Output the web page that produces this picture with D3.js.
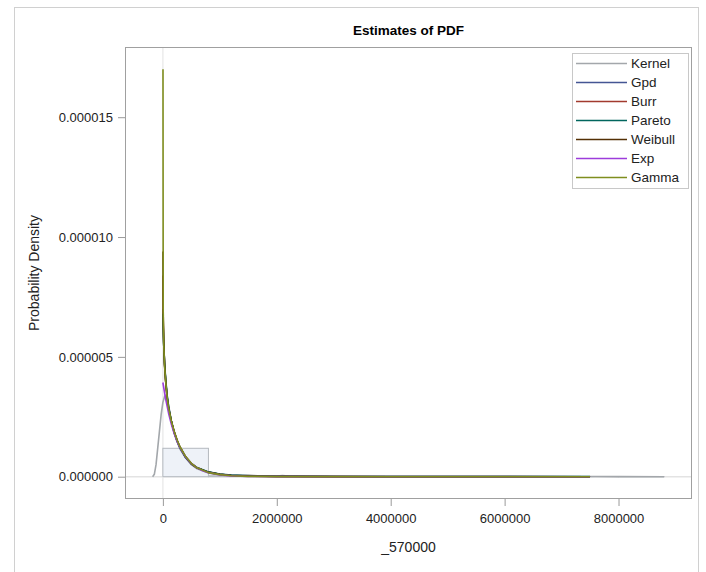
<!DOCTYPE html>
<html>
<head>
<meta charset="utf-8">
<script src="https://cdn.jsdelivr.net/npm/d3@7"></script>
<style>
  html, body { margin: 0; padding: 0; background: #fff; }
  svg text { font-family: "Liberation Sans", Arial, sans-serif; }
</style>
</head>
<body>
<svg id="chart" width="706" height="572"></svg>
<script>
// ---- data (densities in units of 1e-6) ----
const UNIT = 1e-6;
const seriesNames = ["Kernel", "Gpd", "Burr", "Pareto", "Weibull", "Exp", "Gamma"];
const seriesColors = ["#a3a7ab", "#445694", "#A23A2E", "#01665E", "#543005", "#9D3CDB", "#7F8E1F"];

// histogram bins (edges in dollars) and heights
const binEdges = [0, 800000, 1600000, 2400000, 3200000, 4000000, 4800000, 5600000, 6400000, 7200000, 8000000, 8800000];
const binHeights = [1.185, 0.04, 0.012, 0.004, 0.002, 0.001, 0.001, 0.001, 0.001, 0.0015, 0.001];

// kernel density
const kernelX = [-180000, -150000, -120000, -90000, -60000, -30000, 0, 30000, 50000, 70000, 100000, 150000, 200000, 300000, 400000, 500000, 600000, 800000, 1000000, 1200000, 1400000, 1500000, 1600000, 1800000, 2000000, 2100000, 2200000, 2500000, 3000000, 4000000, 5000000, 6000000, 7000000, 7600000, 8000000, 8800000];
const kernelY = [0.0, 0.1, 0.5, 1.2, 1.9, 2.6, 3.1, 3.35, 3.4, 3.3, 3.0, 2.3, 1.8, 1.15, 0.78, 0.5, 0.33, 0.15, 0.08, 0.05, 0.06, 0.07, 0.05, 0.02, 0.03, 0.05, 0.03, 0.01, 0.005, 0.003, 0.003, 0.003, 0.003, 0.006, 0.003, 0.0];

// parametric fits
const fitX = [2000, 6000, 15000, 30000, 50000, 75000, 100000, 150000, 200000, 250000, 300000, 400000, 500000, 600000, 800000, 1000000, 1200000, 1500000, 2000000, 3000000, 4000000, 5000000, 6000000, 7500000];
const gpdY     = [7.0, 6.3, 5.5, 4.7, 4.0, 3.35, 2.9, 2.3, 1.85, 1.5, 1.22, 0.8, 0.53, 0.36, 0.19, 0.105, 0.06, 0.032, 0.014, 0.005, 0.0025, 0.0014, 0.0009, 0.0005];
const burrY    = [8.4, 6.5, 5.6, 4.7, 3.95, 3.3, 2.85, 2.28, 1.85, 1.5, 1.23, 0.82, 0.54, 0.37, 0.19, 0.1, 0.057, 0.03, 0.013, 0.0045, 0.0022, 0.0012, 0.0008, 0.0004];
const paretoY  = [6.8, 6.2, 5.5, 4.75, 4.05, 3.4, 2.92, 2.3, 1.83, 1.47, 1.2, 0.8, 0.54, 0.38, 0.2, 0.11, 0.065, 0.035, 0.016, 0.006, 0.003, 0.0017, 0.0011, 0.0006];
const weibullY = [9.4, 6.7, 5.6, 4.65, 3.95, 3.3, 2.85, 2.3, 1.87, 1.52, 1.24, 0.83, 0.55, 0.37, 0.18, 0.095, 0.05, 0.022, 0.008, 0.0015, 0.0003, 0.0001, 0, 0];
const gammaY   = [17.0, 6.9, 5.5, 4.6, 3.95, 3.3, 2.87, 2.3, 1.88, 1.53, 1.25, 0.84, 0.56, 0.37, 0.17, 0.085, 0.04, 0.015, 0.003, 0.0002, 0, 0, 0, 0];

const expX = [0, 50000, 100000, 150000, 200000, 250000, 300000, 400000, 500000, 600000, 700000, 800000, 1000000, 1200000, 1500000, 2000000, 3000000, 5000000, 7500000];
const expY = [3.93, 3.23, 2.65, 2.18, 1.79, 1.47, 1.21, 0.816, 0.551, 0.372, 0.251, 0.169, 0.077, 0.035, 0.011, 0.0015, 0, 0, 0];

const xTicks = [0, 2000000, 4000000, 6000000, 8000000];
const yTicks = [0, 0.000005, 0.00001, 0.000015];

// ---- layout ----
const svg = d3.select("#chart");
const P = { left: 125, right: 692, top: 47, bottom: 499 };

const x = d3.scaleLinear().domain([-665000, 9290000]).range([P.left, P.right]);
const y = d3.scaleLinear().domain([-0.931e-6, 17.93e-6]).range([P.bottom, P.top]);

// outer frame
svg.append("rect").attr("x", 14.5).attr("y", 7.5).attr("width", 684).attr("height", 600)
  .attr("fill", "none").attr("stroke", "#d0d0d0");

// title
svg.append("text").attr("x", (P.left + P.right) / 2).attr("y", 35)
  .attr("text-anchor", "middle").attr("font-size", "13.5px").attr("font-weight", "bold")
  .attr("fill", "#000").text("Estimates of PDF");

const clipId = "plotclip";
svg.append("clipPath").attr("id", clipId).append("rect")
  .attr("x", P.left).attr("y", P.top).attr("width", P.right - P.left).attr("height", P.bottom - P.top);

const plot = svg.append("g").attr("clip-path", `url(#${clipId})`);

// reference lines
plot.append("line").attr("x1", P.left).attr("x2", P.right).attr("y1", y(0)).attr("y2", y(0))
  .attr("stroke", "#e3e3e3").attr("stroke-width", 1.5);
plot.append("line").attr("x1", x(0)).attr("x2", x(0)).attr("y1", P.top).attr("y2", P.bottom)
  .attr("stroke", "#ececec").attr("stroke-width", 1.5);

// histogram
const bins = binHeights.map((h, i) => ({ x0: binEdges[i], x1: binEdges[i + 1], h: h * UNIT }));
plot.selectAll("rect.bar").data(bins).enter().append("rect").attr("class", "bar")
  .attr("x", d => x(d.x0)).attr("width", d => x(d.x1) - x(d.x0))
  .attr("y", d => y(d.h)).attr("height", d => y(0) - y(d.h))
  .attr("fill", "#eef2f8").attr("stroke", "#b4b9bf").attr("stroke-width", 1);

// curves
const line = d3.line().x(d => x(d[0])).y(d => y(d[1] * UNIT));
const seriesData = [
  d3.zip(kernelX, kernelY),
  d3.zip(fitX, gpdY),
  d3.zip(fitX, burrY),
  d3.zip(fitX, paretoY),
  d3.zip(fitX, weibullY),
  d3.zip(expX, expY),
  d3.zip(fitX, gammaY)
];
seriesData.forEach((pts, i) => {
  plot.append("path").datum(pts).attr("d", line)
    .attr("fill", "none").attr("stroke", seriesColors[i]).attr("stroke-width", 1.6)
    .attr("stroke-linejoin", "round");
});

// plot frame
svg.append("rect").attr("x", P.left + 0.5).attr("y", P.top + 0.5)
  .attr("width", P.right - P.left - 1).attr("height", P.bottom - P.top - 1)
  .attr("fill", "none").attr("stroke", "#a0a0a0");

// axes
const xAxis = d3.axisBottom(x).tickValues(xTicks).tickFormat(d3.format("d")).tickSize(7).tickSizeOuter(0);
const gx = svg.append("g").attr("transform", `translate(0,${P.bottom})`).call(xAxis);
gx.select(".domain").remove();
gx.selectAll(".tick line").attr("stroke", "#9a9a9a");
gx.selectAll(".tick text").attr("font-size", "13px").attr("fill", "#222").attr("dy", "1.05em")
  .attr("font-family", "Liberation Sans, Arial, sans-serif");

const yAxis = d3.axisLeft(y).tickValues(yTicks).tickFormat(d3.format(".6f")).tickSize(7).tickSizeOuter(0);
const gy = svg.append("g").attr("transform", `translate(${P.left},0)`).call(yAxis);
gy.select(".domain").remove();
gy.selectAll(".tick line").attr("stroke", "#9a9a9a");
gy.selectAll(".tick text").attr("font-size", "13px").attr("fill", "#222").attr("x", -12)
  .attr("font-family", "Liberation Sans, Arial, sans-serif");

// axis labels
svg.append("text").attr("x", (P.left + P.right) / 2).attr("y", 552)
  .attr("text-anchor", "middle").attr("font-size", "14px").attr("fill", "#222").text("_570000");
svg.append("text").attr("transform", `translate(39,${(P.top + P.bottom) / 2}) rotate(-90)`)
  .attr("text-anchor", "middle").attr("font-size", "14px").attr("fill", "#222").text("Probability Density");

// legend
const L = { x: 572, y: 53, w: 116, h: 135 };
svg.append("rect").attr("x", L.x + 0.5).attr("y", L.y + 0.5).attr("width", L.w).attr("height", L.h)
  .attr("fill", "#fff").attr("stroke", "#c8c8c8");
const lg = svg.append("g");
seriesNames.forEach((name, i) => {
  const yy = 63.5 + i * 19;
  lg.append("line").attr("x1", 576).attr("x2", 627).attr("y1", yy).attr("y2", yy)
    .attr("stroke", seriesColors[i]).attr("stroke-width", 1.6);
  lg.append("text").attr("x", 631).attr("y", yy).attr("dy", "0.35em")
    .attr("font-size", "13.5px").attr("fill", "#222").text(name);
});
</script>
</body>
</html>
